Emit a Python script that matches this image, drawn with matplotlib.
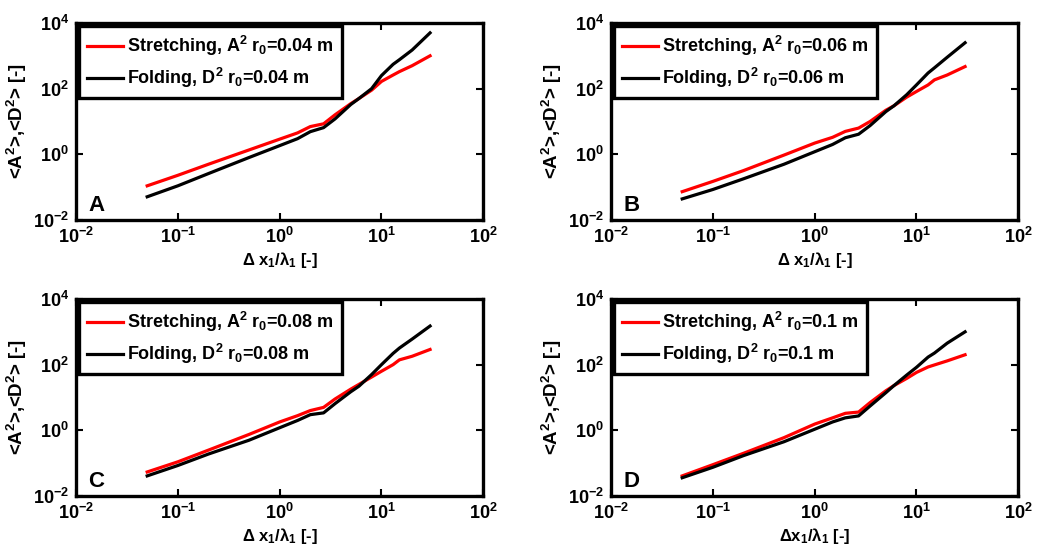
import matplotlib
matplotlib.use("Agg")
import matplotlib.pyplot as plt

plt.rcParams['font.family'] = ['Liberation Sans', 'DejaVu Sans']
plt.rcParams['font.weight'] = 'bold'
plt.rcParams['mathtext.fontset'] = 'custom'
plt.rcParams['mathtext.rm'] = 'Liberation Sans:bold'
plt.rcParams['mathtext.it'] = 'Liberation Sans:bold'
plt.rcParams['mathtext.bf'] = 'Liberation Sans:bold'
plt.rcParams['mathtext.default'] = 'regular'

# separation distance dx1/lambda1, common to all panels
dx = [0.05, 0.1, 0.2, 0.5, 1, 1.5, 2, 2.7, 3.5, 5, 6, 8, 10, 13, 15, 20, 30]

# panel A, r0 = 0.04 m
stretch_a = [0.11, 0.23, 0.5, 1.36, 2.9, 4.5, 7, 8.5, 16, 35, 50, 90, 166, 260, 330, 500, 1000]
fold_a = [0.051, 0.11, 0.26, 0.8, 1.84, 3, 4.9, 6.5, 12, 33, 50, 100, 250, 550, 760, 1500, 5000]
# panel B, r0 = 0.06 m
stretch_b = [0.073, 0.15, 0.32, 0.95, 2.2, 3.3, 5, 6.3, 10, 22, 30, 55, 82, 130, 185, 260, 470]
fold_b = [0.044, 0.085, 0.18, 0.5, 1.2, 2, 3.2, 4.1, 7.5, 20, 30, 65, 130, 300, 430, 900, 2500]
# panel C, r0 = 0.08 m
stretch_c = [0.054, 0.11, 0.25, 0.75, 1.8, 2.8, 4, 5, 9, 18, 25, 42, 63, 100, 140, 180, 290]
fold_c = [0.041, 0.085, 0.19, 0.5, 1.2, 2, 3, 3.4, 6.5, 15, 22, 50, 100, 220, 320, 600, 1500]
# panel D, r0 = 0.1 m
stretch_d = [0.041, 0.09, 0.2, 0.6, 1.55, 2.4, 3.3, 3.6, 7, 16, 23, 38, 58, 85, 98, 130, 200]
fold_d = [0.036, 0.075, 0.17, 0.45, 1.08, 1.8, 2.4, 2.75, 5.5, 14, 23, 48, 83, 170, 225, 450, 1000]

radii = ['0.04', '0.06', '0.08', '0.1']
letters = ['A', 'B', 'C', 'D']
stretch = [stretch_a, stretch_b, stretch_c, stretch_d]
fold = [fold_a, fold_b, fold_c, fold_d]
xlabels = ['Δ x$_1$/λ$_1$ [-]', 'Δ x$_1$/λ$_1$ [-]', 'Δ x$_1$/λ$_1$ [-]', 'Δx$_1$/λ$_1$ [-]']

fig = plt.figure(figsize=(10.47, 5.52), dpi=100)
lefts = [0.0726, 0.5836, 0.0726, 0.5836]
bottoms = [0.6014, 0.6014, 0.1014, 0.1014]

for i in range(4):
    ax = fig.add_axes([lefts[i], bottoms[i], 0.389, 0.357])
    ax.plot(dx, stretch[i], color='red', lw=2.3,
            label='Stretching, A$^2$ r$_0$=' + radii[i] + ' m')
    ax.plot(dx, fold[i], color='black', lw=2.3,
            label='Folding, D$^2$ r$_0$=' + radii[i] + ' m')
    ax.set_xscale('log')
    ax.set_yscale('log')
    ax.set_xlim(1e-2, 1e2)
    ax.set_ylim(1e-2, 1e4)
    ax.set_xticks([1e-2, 1e-1, 1e0, 1e1, 1e2])
    ax.set_yticks([1e-2, 1e0, 1e2, 1e4])
    ax.minorticks_off()
    ax.tick_params(direction='in', top=True, right=True, length=5, width=1.5,
                   labelsize=13, pad=5)
    for s in ax.spines.values():
        s.set_linewidth(2.4)
    ax.set_xlabel(xlabels[i], fontsize=12, fontweight='bold', labelpad=2)
    ax.set_ylabel('<A$^2$>,<D$^2$> [-]', fontsize=13.5, fontweight='bold', labelpad=3)
    ax.text(0.03, 0.02, letters[i], transform=ax.transAxes, fontsize=16,
            fontweight='bold', va='bottom', ha='left')
    leg = ax.legend(loc='upper left', fontsize=13, handlelength=2.0,
                    handletextpad=0.2, borderaxespad=0.15, fancybox=False,
                    framealpha=1, edgecolor='black', labelspacing=0.45,
                    borderpad=0.45)
    leg.get_frame().set_linewidth(2.4)

fig.savefig('out.png', dpi=100)
